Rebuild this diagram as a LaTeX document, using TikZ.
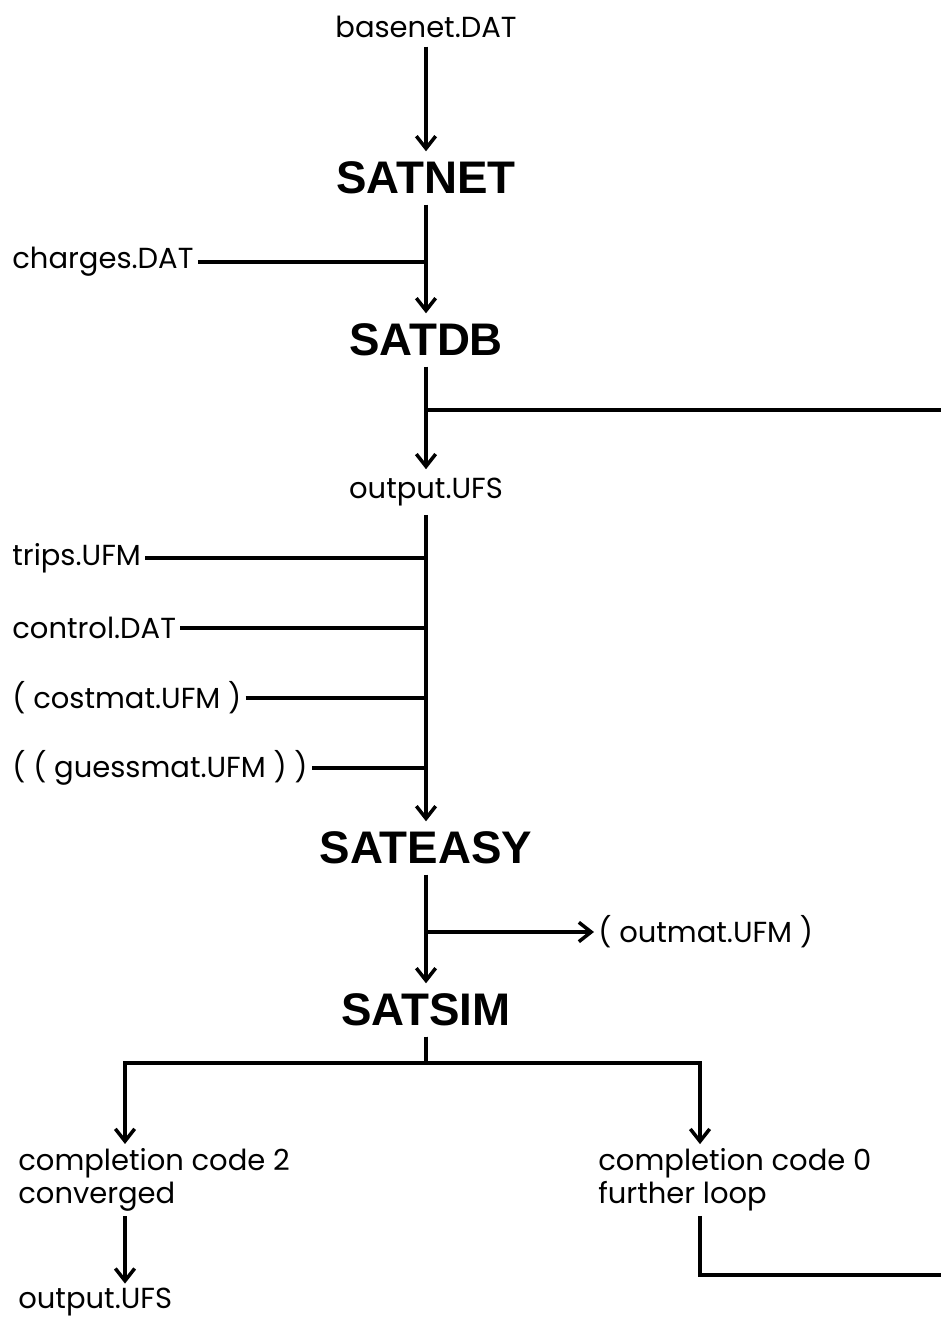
\documentclass[tikz,border=0pt]{standalone}
\usepackage{fontspec}
\setmainfont{Poppins}
\newfontfamily\progfont{Liberation Sans}
\usetikzlibrary{arrows.meta}
\begin{document}
\begin{tikzpicture}[x=0.02cm, y=-0.02cm, line width=2pt,
  >={Straight Barb[length=7pt,width=11pt]},
  every node/.style={font=\fontsize{16.5}{19}\selectfont, inner sep=4pt},
  prog/.style={font=\progfont\bfseries\fontsize{26}{30}\selectfont, inner sep=5pt},
  file/.style={anchor=west, inner sep=1.5pt, align=left}]
\useasboundingbox (0,0) rectangle (941,1319);
% programme chain
\node (basenet) at (426,27) {basenet.DAT};
\node[prog] (satnet) at (426,178) {SATNET};
\node[prog] (satdb) at (426,340) {SATDB};
\node (outufs) at (426,492) {output.UFS};
\node[prog] (sateasy) at (426,848) {SATEASY};
\node[prog] (satsim) at (426,1010) {SATSIM};
% side files
\node[file] (charges) at (8,262) {charges.DAT};
\node[file] (trips) at (8,558) {trips.UFM};
\node[file] (control) at (8,628) {control.DAT};
\node[file] (costmat) at (8,698) {( costmat.UFM )};
\node[file] (guess) at (8,768) {( ( guessmat.UFM ) )};
\node[file] (outmat) at (594,932) {( outmat.UFM )};
\node[file] (conv) at (14,1180) {completion code 2\\converged};
\node[file] (loop) at (594,1180) {completion code 0\\further loop};
\node[file] (outfin) at (14,1302) {output.UFS};
\coordinate (loopin) at (941,410);
\coordinate (loopout) at (941,1275);
\coordinate (lbr) at (125,1063);
\coordinate (rbr) at (700,1063);
% connectors
\draw[->] (basenet) -- (satnet);
\draw[->] (satnet) -- (satdb);
\draw (charges.east) -- (charges.east -| satnet);
\draw[->] (satdb) -- (outufs);
\draw (satdb |- loopin) -- (loopin);
\draw[->] (outufs) -- (sateasy);
\foreach \f in {trips,control,costmat,guess}
  \draw (\f.east) -- (\f.east -| sateasy);
\draw[->] (sateasy) -- (satsim);
\draw[->] (sateasy |- outmat) -- (outmat.west);
\draw[->] (satsim.south) |- (lbr) -- (lbr |- conv.north);
\draw[->] (satsim.south) |- (rbr) -- (rbr |- loop.north);
\draw[->] (lbr |- conv.south) -- (lbr |- outfin.north);
\draw (rbr |- loop.south) |- (loopout);
\end{tikzpicture}
\end{document}
